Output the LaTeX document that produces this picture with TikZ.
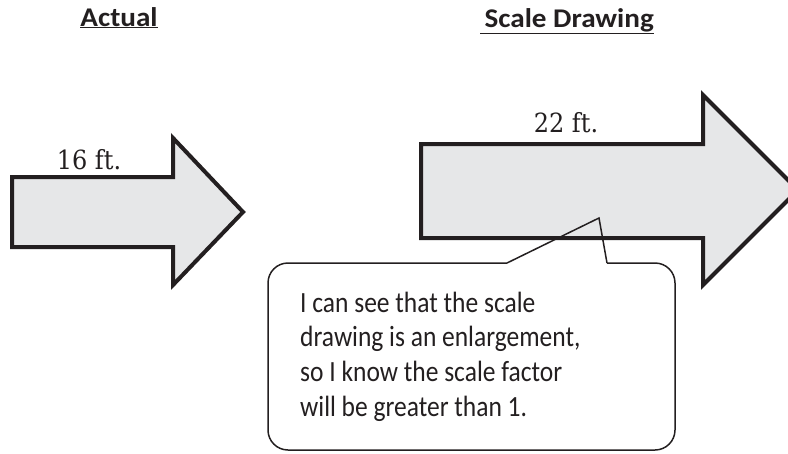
\documentclass[tikz,border=0pt]{standalone}
\usepackage{fontspec}
\usepackage{graphicx}
\setmainfont{Carlito}
\newfontfamily\labelfont{DejaVu Serif}
\definecolor{arrowfill}{HTML}{E6E7E8}
\definecolor{ink}{HTML}{231F20}
\tikzset{
  bigarrow/.style={draw=ink, line width=4pt, fill=arrowfill, line join=miter},
  calloutline/.style={draw=ink, line width=1.5pt},
  header/.style={font=\fontsize{27}{32}\selectfont\bfseries, text=ink, anchor=base, inner sep=0pt},
  sizelabel/.style={font=\labelfont\fontsize{24}{28}\selectfont, text=ink, anchor=base, inner sep=0pt},
  callouttext/.style={font=\fontsize{25.5}{30.4}\selectfont, text=ink, anchor=base west, inner sep=0pt}
}
\begin{document}
\begin{tikzpicture}[x=1pt,y=-1pt]
\useasboundingbox (0,0) rectangle (788,453);
\clip (0,0) rectangle (788,453);
% headers
\node[header] (hact) at (119,26) {\scalebox{1.08}[1]{\underline{Actual}}};
\node[header] (hscale) at (567,27) {\scalebox{1.08}[1]{\underline{\hspace{4pt}Scale Drawing}}};
% small arrow
\draw[bigarrow] (12,177) -- (173,177) -- (173,138) -- (243,212) -- (173,285) -- (173,247) -- (12,247) -- cycle;
\node[sizelabel] (l16) at (89,169) {\scalebox{1}[1.1]{16 ft.}};
% large arrow
\draw[bigarrow] (421,144) -- (703,144) -- (703,95) -- (798,190) -- (703,285) -- (703,238) -- (421,238) -- cycle;
\node[sizelabel] (l22) at (566,132) {\scalebox{1}[1.1]{22 ft.}};
% callout
\draw[calloutline] (507,263) [rounded corners=20pt] -- (268,263) -- (268,450) -- (675,450) -- (675,263) -- (607,263);
\draw[calloutline, line join=miter] (507,263) -- (599,218) -- (607,263);
\node[callouttext] (ctext) at (300,312) {\scalebox{1}[1.15]{\begin{tabular}[t]{@{}l@{}}I can see that the scale\\drawing is an enlargement,\\so I know the scale factor\\will be greater than 1.\end{tabular}}};
\end{tikzpicture}
\end{document}
